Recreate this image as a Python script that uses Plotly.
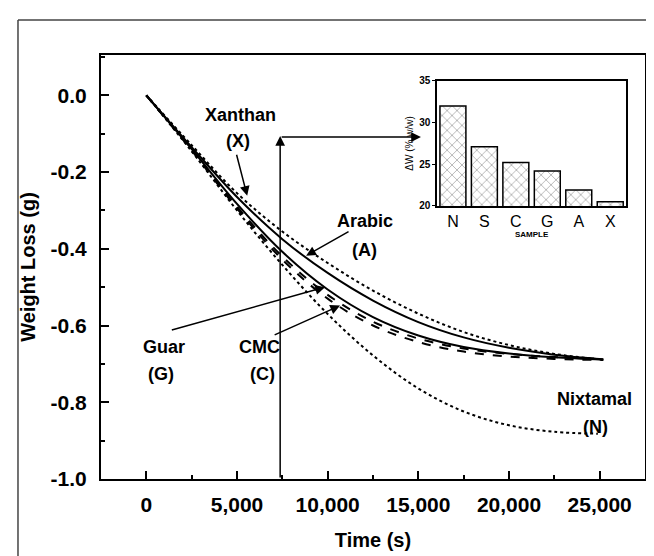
import plotly.graph_objects as go

# ---------------- data ----------------
time_s = [0, 2500, 5000, 7500, 10000, 12500, 15000, 17500, 20000, 22500, 25200]
xanthan = [0, -0.130, -0.255, -0.355, -0.437, -0.509, -0.569, -0.617, -0.651, -0.674, -0.689]
arabic = [0, -0.135, -0.265, -0.375, -0.463, -0.535, -0.591, -0.631, -0.658, -0.676, -0.688]
guar = [0, -0.140, -0.283, -0.408, -0.506, -0.578, -0.626, -0.656, -0.673, -0.683, -0.689]
cmc = [0, -0.142, -0.290, -0.420, -0.520, -0.590, -0.634, -0.660, -0.674, -0.682, -0.687]
sample_s = [0, -0.144, -0.295, -0.428, -0.530, -0.600, -0.643, -0.668, -0.681, -0.687, -0.690]
time_n = [0, 2500, 5000, 7500, 10000, 12500, 15000, 17500, 20000, 22500, 24900]
nixtamal = [0, -0.146, -0.300, -0.442, -0.570, -0.678, -0.764, -0.824, -0.860, -0.877, -0.882]

inset_samples = ["N", "S", "C", "G", "A", "X"]
inset_dw = [32.0, 27.1, 25.2, 24.2, 21.9, 20.5]

y_tick_vals = [0.0, -0.2, -0.4, -0.6, -0.8, -1.0]
y_tick_text = ["0.0", "-0.2", "-0.4", "-0.6", "-0.8", "-1.0"]
x_tick_vals = [0, 5000, 10000, 15000, 20000, 25000]
x_tick_text = ["0", "5,000", "10,000", "15,000", "20,000", "25,000"]
inset_tick_vals = [20, 25, 30, 35]

FONT = "Liberation Sans"
fig = go.Figure()

def add_curve(x, y, dash, width=2):
    fig.add_trace(go.Scatter(x=x, y=y, mode="lines",
                             line=dict(color="black", width=width, dash=dash, shape="spline", smoothing=1.0),
                             hoverinfo="skip"))

add_curve(time_s, xanthan, "dot", 2)
add_curve(time_s, arabic, "solid")
add_curve(time_s, guar, "solid")
add_curve(time_s, cmc, "dash")
add_curve(time_s, sample_s, "dash")
add_curve(time_n, nixtamal, "dot", 2)

fig.add_trace(go.Bar(
    x=inset_samples, y=inset_dw, xaxis="x2", yaxis="y2",
    marker=dict(color="white", line=dict(color="black", width=1.5),
                pattern=dict(shape="x", fgcolor="black", bgcolor="white", size=7, solidity=0.15)),
    hoverinfo="skip"))

axis_font = dict(family=FONT, size=21, color="black", weight="bold")
title_font = dict(family=FONT, size=20, color="black", weight="bold")

fig.update_layout(
    width=654, height=556,
    margin=dict(l=93, r=17, t=47, b=85),
    paper_bgcolor="white", plot_bgcolor="white",
    showlegend=False,
    bargap=0.175,
    xaxis=dict(range=[-2500, 27500], tickvals=x_tick_vals, ticktext=x_tick_text,
               ticks="inside", ticklen=8, tickwidth=2, tickcolor="black",
               minor=dict(ticks="inside", ticklen=4, tickwidth=1.5, dtick=2500, tick0=0, tickcolor="black"),
               showline=True, linewidth=2, linecolor="black", mirror=True, showgrid=False, zeroline=False,
               tickfont=axis_font, ticklabelstandoff=6,
               title=dict(text="Time (s)", font=title_font, standoff=18)),
    yaxis=dict(range=[-1.0, 0.105], tickvals=y_tick_vals, ticktext=y_tick_text,
               ticks="inside", ticklen=8, tickwidth=2, tickcolor="black",
               minor=dict(ticks="inside", ticklen=4, tickwidth=1.5, dtick=0.1, tick0=0, tickcolor="black"),
               showline=True, linewidth=2, linecolor="black", mirror=True, showgrid=False, zeroline=False,
               tickfont=axis_font, ticklabelstandoff=8,
               title=dict(text="Weight Loss (g)", font=title_font, standoff=10)),
    xaxis2=dict(domain=[0.618, 0.965], anchor="y2", range=[-0.5, 5.5],
                showline=True, linewidth=1.5, linecolor="black", mirror=True, ticks="",
                tickfont=dict(family=FONT, size=16, color="black"), ticklabelstandoff=0,
                title=dict(text="SAMPLE", font=dict(family=FONT, size=8, color="black", weight="bold"), standoff=0)),
    yaxis2=dict(domain=[0.644, 0.939], anchor="x2", range=[20, 35], tickvals=inset_tick_vals,
                showline=True, linewidth=1.5, linecolor="black", mirror=True,
                ticks="outside", ticklen=3, tickwidth=1, tickcolor="black", showgrid=False, zeroline=False,
                tickfont=dict(family=FONT, size=10, color="black", weight="bold"),
                title=dict(text="ΔW (% w/w)", font=dict(family=FONT, size=10, color="black"), standoff=4)),
)

lab = dict(family=FONT, size=18, color="black", weight="bold")
texts = [
    ("Xanthan", 5177, -0.052), ("(X)", 5066, -0.119),
    ("Arabic", 12060, -0.327), ("(A)", 12005, -0.403),
    ("Guar", 991, -0.657), ("(G)", 826, -0.727),
    ("CMC", 6223, -0.657), ("(C)", 6388, -0.727),
    ("Nixtamal", 24726, -0.792), ("(N)", 24781, -0.865),
]
for t, x, y in texts:
    fig.add_annotation(x=x, y=y, xref="x", yref="y", text=t, showarrow=False, font=lab)

arrows = [
    (4956, -0.151, 5562, -0.262),   # Xanthan
    (11234, -0.353, 8811, -0.418),  # Arabic
    (1322, -0.613, 9858, -0.500),   # Guar
    (6994, -0.626, 10684, -0.548),  # CMC
    (7380, -1.0, 7380, -0.106),     # vertical
    (7380, -0.109, 15144, -0.109),  # horizontal
]
for ax, ay, x, y in arrows:
    fig.add_annotation(x=x, y=y, ax=ax, ay=ay, xref="x", yref="y", axref="x", ayref="y",
                       text="", showarrow=True, arrowhead=2, arrowsize=1.3, arrowwidth=1.5,
                       arrowcolor="black")

# outer frame (partial, as in the scanned figure)
fig.add_shape(type="line", xref="paper", yref="paper", x0=-0.1526, x1=-0.1526, y0=1.0825, y1=-0.21,
              line=dict(color="#444", width=1.5))
fig.add_shape(type="line", xref="paper", yref="paper", x0=-0.1526, x1=1.04, y0=1.0825, y1=1.0825,
              line=dict(color="#444", width=1.5))

fig.write_html("out.html")
